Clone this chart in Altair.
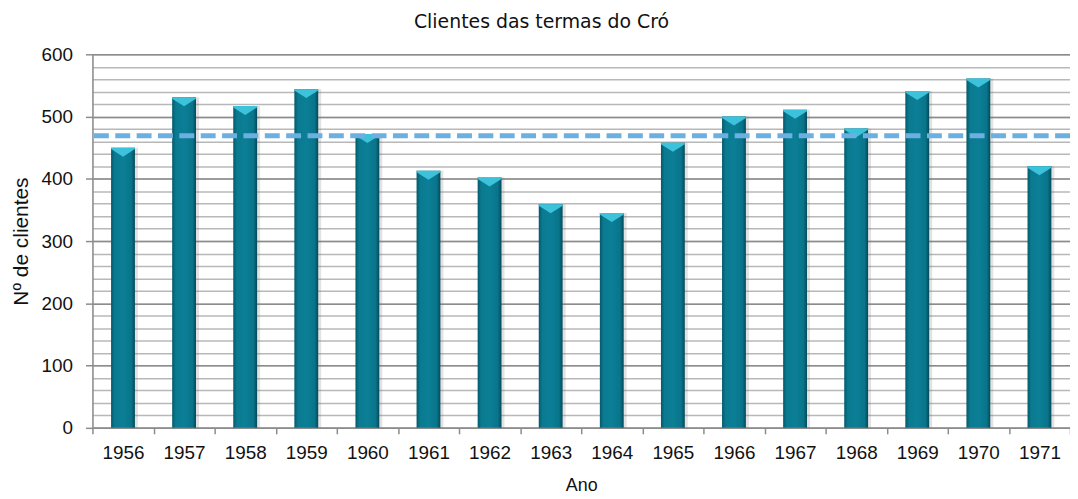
import altair as alt
import pandas as pd

anos = ["1956", "1957", "1958", "1959", "1960", "1961", "1962", "1963",
        "1964", "1965", "1966", "1967", "1968", "1969", "1970", "1971"]
clientes = [450, 531, 517, 544, 472, 413, 402, 359,
            345, 458, 500, 511, 481, 541, 561, 420]

df = pd.DataFrame({"Ano": anos, "clientes": clientes})

LABEL_FONT = "Liberation Sans"

x_enc = alt.X(
    "Ano:N",
    title="Ano",
    sort=anos,
    scale=alt.Scale(paddingInner=0, paddingOuter=0),
    axis=alt.Axis(
        labelAngle=0, labelFont=LABEL_FONT, labelFontSize=19, labelColor="#111",
        labelPadding=10, tickBand="extent", tickSize=6, tickColor="#8c8c8c",
        tickWidth=1.5, domainColor="#8c8c8c", domainWidth=1.5, grid=False,
        titleFont=LABEL_FONT, titleFontSize=18, titleFontWeight="normal",
        titleColor="#111", titleBaseline="alphabetic", titleY=63,
    ),
)

yscale = alt.Scale(domain=[0, 600], nice=False)

shadow = alt.Chart(df).mark_bar(size=24, xOffset=3, color="#7a7a7a", opacity=0.22).encode(
    x=x_enc, y=alt.Y("clientes:Q", scale=yscale, axis=None)
)

grad = alt.Gradient(
    gradient="linear", x1=0, x2=1, y1=0, y2=0,
    stops=[
        alt.GradientStop(offset=0, color="#04596b"),
        alt.GradientStop(offset=0.15, color="#0a7a90"),
        alt.GradientStop(offset=0.5, color="#0b7f96"),
        alt.GradientStop(offset=0.85, color="#09748a"),
        alt.GradientStop(offset=1, color="#03495a"),
    ],
)

bars = alt.Chart(df).mark_bar(size=24, color=grad).encode(
    x=x_enc,
    y=alt.Y(
        "clientes:Q", scale=yscale, title="Nº de clientes",
        axis=alt.Axis(
            orient="left", values=list(range(0, 601, 20)), grid=True,
            gridColor="#b8b8b8", gridWidth=1.5, labels=False, ticks=False,
            domain=False, title=None,
        ),
    ),
)

bevel = alt.Chart(df).mark_point(
    shape="M-1,0L1,0L1,0.12L0,0.75L-1,0.12Z", size=576, filled=True,
    color="#3cc2da", opacity=1, strokeWidth=0,
).encode(
    x=x_enc,
    y=alt.Y(
        "clientes:Q", scale=yscale, title="Nº de clientes",
        axis=alt.Axis(
            orient="left", values=list(range(0, 601, 100)), grid=True,
            gridColor="#8c8c8c", gridWidth=1.5, tickSize=7, tickColor="#8c8c8c",
            tickWidth=1.5, domainColor="#8c8c8c", domainWidth=1.5,
            labelFont=LABEL_FONT, labelFontSize=19, labelColor="#111",
            labelPadding=13, titleFont=LABEL_FONT, titleFontSize=21,
            titleFontWeight="normal", titleColor="#111",
            titleBaseline="alphabetic", titleAlign="center", titleAngle=270,
            titleX=-65, titleY=188,
        ),
    ),
)

media = alt.Chart(df).mark_rule(
    color="#6cb0e2", strokeWidth=5, strokeDash=[15, 6.5]
).encode(y=alt.Y("mean(clientes):Q", scale=yscale, axis=None))

chart = (
    alt.layer(shadow, bars, bevel, media)
    .resolve_axis(y="independent")
    .properties(
        width=984,
        height=376,
        padding={"left": 85, "top": 45, "right": 0, "bottom": 67},
        autosize=alt.AutoSizeParams(type="none"),
        title=alt.TitleParams(
            "Clientes das termas do Cró", font="DejaVu Sans", fontSize=19,
            fontWeight="normal", color="#111", anchor="middle", frame="group",
            dx=-40, offset=-2, baseline="alphabetic",
        ),
    )
    .configure_view(stroke=None)
    .configure(background="white")
)

chart.save("out.html", embed_options={"renderer": "svg", "actions": False})
